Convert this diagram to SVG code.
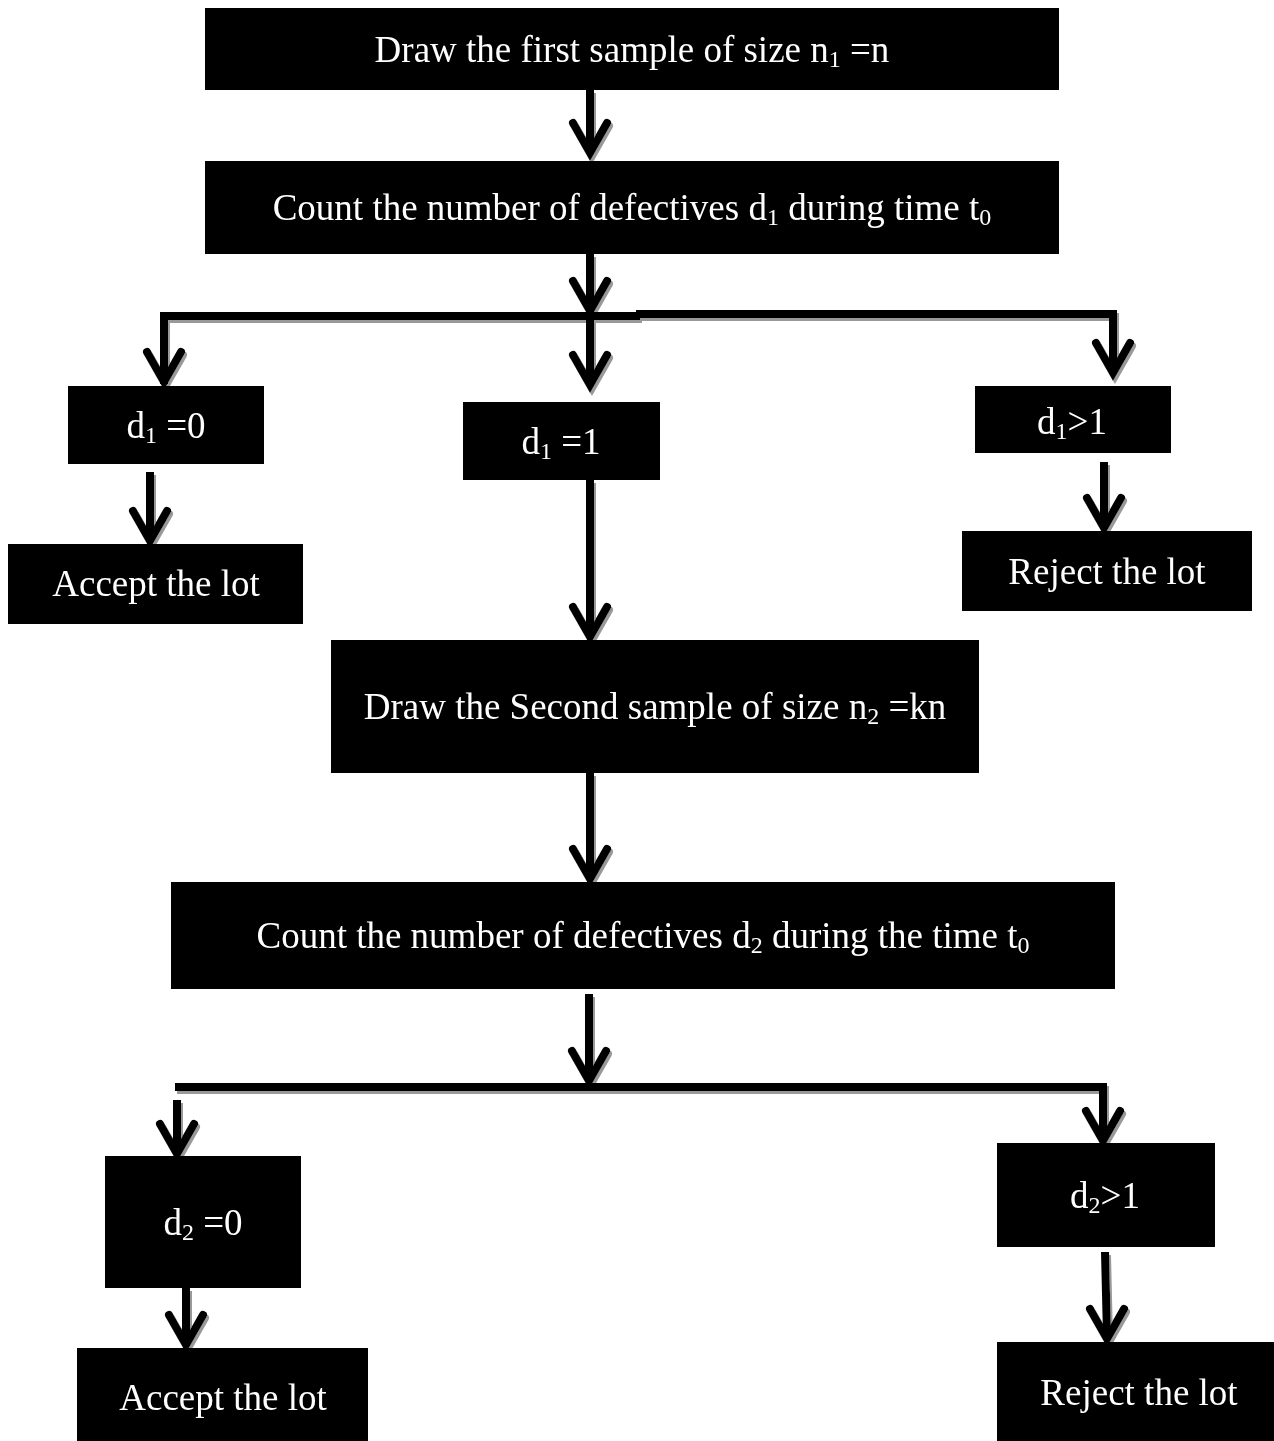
<svg xmlns="http://www.w3.org/2000/svg" xmlns:xlink="http://www.w3.org/1999/xlink" width="1274" height="1441" viewBox="0 0 1274 1441">
<style>
.box{fill:#000}
.t{font-family:"Liberation Serif","Times New Roman",serif;font-size:37px;fill:#fff;text-anchor:middle}
.sub{font-size:24px}
.ln{fill:none;stroke:#000;stroke-width:8;stroke-linejoin:miter}
.hd{fill:none;stroke:#000;stroke-width:8;stroke-linecap:round;stroke-linejoin:miter}
</style>
<defs>
<filter id="sh" x="-10%" y="-10%" width="120%" height="130%">
<feDropShadow dx="2" dy="3" stdDeviation="0.6" flood-color="#999" flood-opacity="1"/>
</filter>
<path id="head" class="hd" d="M-17,-30 L0,0 L17,-30"/>
</defs>
<rect width="1274" height="1441" fill="#fff"/>
<g id="connectors" filter="url(#sh)">
<path class="ln" d="M590,90 V150"/><use xlink:href="#head" x="590" y="153"/>
<path class="ln" d="M590,254 V308"/><use xlink:href="#head" x="590" y="311"/>
<path class="ln" d="M164,384 V316 H640"/>
<path class="ln" d="M636,314 H1113 V372"/>
<use xlink:href="#head" x="164" y="382"/>
<path class="ln" d="M590,312 V383"/><use xlink:href="#head" x="590" y="385"/>
<use xlink:href="#head" x="1113" y="373"/>
<path class="ln" d="M150,472 V538"/><use xlink:href="#head" x="150" y="541"/>
<path class="ln" d="M590,480 V634"/><use xlink:href="#head" x="590" y="637"/>
<path class="ln" d="M1104,462 V525"/><use xlink:href="#head" x="1104" y="528"/>
<path class="ln" d="M590,773 V876"/><use xlink:href="#head" x="590" y="879"/>
<path class="ln" d="M589,994 V1078"/><use xlink:href="#head" x="589" y="1081"/>
<path class="ln" d="M175,1087 H1103 V1138"/>
<path class="ln" d="M177,1100 V1151"/><use xlink:href="#head" x="177" y="1154"/>
<use xlink:href="#head" x="1103" y="1141"/>
<path class="ln" d="M186,1288 V1342"/><use xlink:href="#head" x="186" y="1345"/>
<path class="ln" d="M1105,1252 L1107,1336"/><use xlink:href="#head" x="1107" y="1339"/>
</g>
<g id="n1"><rect class="box" x="205" y="8" width="854" height="82"/><text class="t" x="632" y="62">Draw the first sample of size n<tspan class="sub" dy="5">1</tspan><tspan dy="-5"> =n</tspan></text></g>
<g id="n2"><rect class="box" x="205" y="161" width="854" height="93"/><text class="t" x="632" y="220">Count the number of defectives d<tspan class="sub" dy="5">1</tspan><tspan dy="-5"> during time t</tspan><tspan class="sub" dy="5">0</tspan></text></g>
<g id="n3"><rect class="box" x="68" y="386" width="196" height="78"/><text class="t" x="166" y="438">d<tspan class="sub" dy="5">1</tspan><tspan dy="-5"> =0</tspan></text></g>
<g id="n4"><rect class="box" x="463" y="402" width="197" height="78"/><text class="t" x="561" y="454">d<tspan class="sub" dy="5">1</tspan><tspan dy="-5"> =1</tspan></text></g>
<g id="n5"><rect class="box" x="975" y="386" width="196" height="67"/><text class="t" x="1072" y="434">d<tspan class="sub" dy="5">1</tspan><tspan dy="-5">&gt;1</tspan></text></g>
<g id="n6"><rect class="box" x="8" y="544" width="295" height="80"/><text class="t" x="156" y="596">Accept the lot</text></g>
<g id="n7"><rect class="box" x="962" y="531" width="290" height="80"/><text class="t" x="1107" y="584">Reject the lot</text></g>
<g id="n8"><rect class="box" x="331" y="640" width="648" height="133"/><text class="t" x="655" y="719">Draw the Second sample of size n<tspan class="sub" dy="5">2</tspan><tspan dy="-5"> =kn</tspan></text></g>
<g id="n9"><rect class="box" x="171" y="882" width="944" height="107"/><text class="t" x="643" y="948">Count the number of defectives d<tspan class="sub" dy="5">2</tspan><tspan dy="-5"> during the time t</tspan><tspan class="sub" dy="5">0</tspan></text></g>
<g id="n10"><rect class="box" x="105" y="1156" width="196" height="132"/><text class="t" x="203" y="1235">d<tspan class="sub" dy="5">2</tspan><tspan dy="-5"> =0</tspan></text></g>
<g id="n11"><rect class="box" x="997" y="1143" width="218" height="104"/><text class="t" x="1105" y="1208">d<tspan class="sub" dy="5">2</tspan><tspan dy="-5">&gt;1</tspan></text></g>
<g id="n12"><rect class="box" x="77" y="1348" width="291" height="93"/><text class="t" x="223" y="1410">Accept the lot</text></g>
<g id="n13"><rect class="box" x="997" y="1342" width="277" height="99"/><text class="t" x="1139" y="1405">Reject the lot</text></g>
</svg>
